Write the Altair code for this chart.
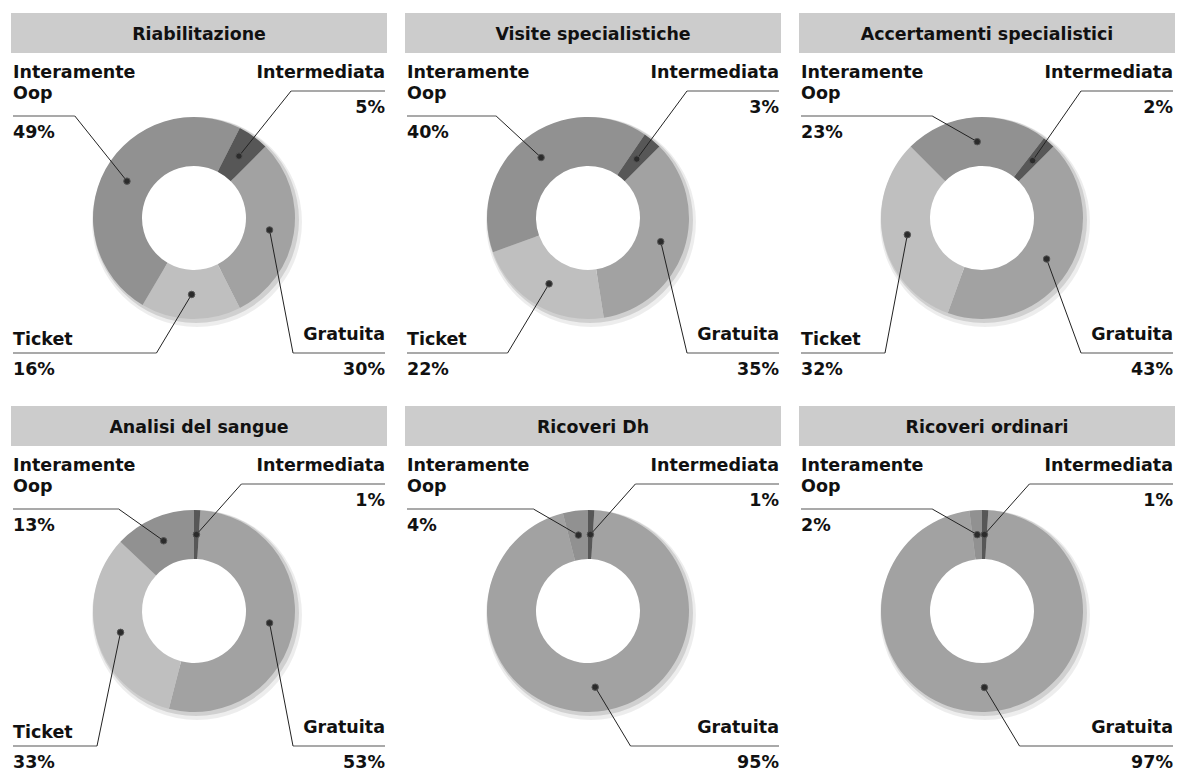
import math

import altair as alt
import pandas as pd

# ---- data -----------------------------------------------------------------
titles = [
    "Riabilitazione",
    "Visite specialistiche",
    "Accertamenti specialistici",
    "Analisi del sangue",
    "Ricoveri Dh",
    "Ricoveri ordinari",
]
categories = ["Gratuita", "Ticket", "Interamente Oop", "Intermediata"]
gratuita = [30, 35, 43, 53, 95, 97]
ticket = [16, 22, 32, 33, 0, 0]
interamente_oop = [49, 40, 23, 13, 4, 2]
intermediata = [5, 3, 2, 1, 1, 1]

# ---- style / layout -------------------------------------------------------
colors = ["#a2a2a2", "#bfbfbf", "#919191", "#575757"]
FONT = "DejaVu Sans"
TITLE_SIZE = 17.4
LABEL_SIZE = 17.5
W, H = 376, 365            # panel size
CX, CY = 183, 205          # ring centre inside a panel
R_OUT, R_IN = 101, 52
R_MID = (R_OUT + R_IN) / 2
ROW_ROTATION = [45.0, 3.6]  # start angle of the first slice, degrees, per row
LEFT, RIGHT = 2, 374

# label blocks: name lines + baselines, rule y, percentage baseline, side
label_layout = {
    "Interamente Oop": dict(lines=["Interamente", "Oop"], ys=[65, 86], rule=103, pct=125, side="left"),
    "Intermediata": dict(lines=["Intermediata"], ys=[65], rule=78, pct=100, side="right"),
    "Ticket": dict(lines=["Ticket"], ys=[332], rule=340, pct=362, side="left"),
    "Gratuita": dict(lines=["Gratuita"], ys=[327], rule=340, pct=362, side="right"),
}


def panel(i):
    row = i // 3
    rot = math.radians(ROW_ROTATION[row])
    values = [gratuita[i], ticket[i], interamente_oop[i], intermediata[i]]
    total = sum(values)
    slices = pd.DataFrame({"categoria": categories, "valore": values, "ordine": range(4)})

    # centroid of each slice on the middle of the ring, and its label pieces
    texts, rules, leaders = [], [], []
    cum = 0.0
    for cat, v in zip(categories, values):
        mid = rot + 2 * math.pi * (cum + v / 2) / total
        cum += v
        if v == 0:
            continue
        dx = CX + R_MID * math.sin(mid)
        dy = CY - R_MID * math.cos(mid)
        lay = label_layout[cat]
        side = lay["side"]
        drop = abs(dy - lay["rule"])
        top = lay["rule"] < CY
        reach = max(0.8 * drop, 45) if top else 0.6 * drop
        if side == "left":
            corner = max(dx - reach, 50 if top else 86)
            rules.append({"x": LEFT, "x2": corner, "y": lay["rule"]})
        else:
            corner = min(dx + reach, 282)
            rules.append({"x": corner, "x2": RIGHT, "y": lay["rule"]})
        leaders.append({"x": corner, "y": lay["rule"], "x2": dx, "y2": dy})
        for line, yb in zip(lay["lines"], lay["ys"]):
            texts.append({"t": line, "x": LEFT if side == "left" else RIGHT, "y": yb, "side": side})
        texts.append({"t": f"{v}%", "x": LEFT if side == "left" else RIGHT, "y": lay["pct"], "side": side})

    xs = alt.Scale(domain=[0, W], nice=False, zero=False)
    ys = alt.Scale(domain=[0, H], nice=False, zero=False, reverse=True)

    bar = alt.Chart(pd.DataFrame({"titolo": [titles[i]]})).mark_rect(color="#cccccc").encode(
        x=alt.value(0), x2=alt.value(W), y=alt.value(0), y2=alt.value(40)
    )
    title = alt.Chart(pd.DataFrame({"titolo": [titles[i]]})).mark_text(
        font=FONT, fontWeight="bold", fontSize=TITLE_SIZE, color="#111111",
        align="center", baseline="alphabetic",
    ).encode(text="titolo:N", x=alt.value(W / 2), y=alt.value(27))

    shadow_a = alt.Chart(pd.DataFrame({"k": [0]})).mark_arc(
        innerRadius=R_IN + 6, outerRadius=R_OUT + 4, theta=0, theta2=2 * math.pi,
        color="#000000", opacity=0.07, xOffset=3, yOffset=4,
    ).encode(x=alt.value(CX), y=alt.value(CY))
    shadow_b = alt.Chart(pd.DataFrame({"k": [0]})).mark_arc(
        innerRadius=R_IN + 4, outerRadius=R_OUT + 2, theta=0, theta2=2 * math.pi,
        color="#000000", opacity=0.12, xOffset=2, yOffset=2,
    ).encode(x=alt.value(CX), y=alt.value(CY))

    ring = alt.Chart(slices).mark_arc(innerRadius=R_IN, outerRadius=R_OUT).encode(
        theta=alt.Theta("valore:Q", stack=True,
                        scale=alt.Scale(range=[rot, rot + 2 * math.pi])),
        color=alt.Color("categoria:N", scale=alt.Scale(domain=categories, range=colors), legend=None),
        order=alt.Order("ordine:Q"),
        x=alt.value(CX), y=alt.value(CY),
    )

    rule_layer = alt.Chart(pd.DataFrame(rules)).mark_rule(color="#8c8c8c", strokeWidth=1.6).encode(
        x=alt.X("x:Q", scale=xs, axis=None), x2="x2:Q",
        y=alt.Y("y:Q", scale=ys, axis=None),
    )
    leader_layer = alt.Chart(pd.DataFrame(leaders)).mark_rule(color="#222222", strokeWidth=1).encode(
        x=alt.X("x:Q", scale=xs, axis=None), x2="x2:Q",
        y=alt.Y("y:Q", scale=ys, axis=None), y2="y2:Q",
    )
    dots = alt.Chart(pd.DataFrame(leaders)).mark_circle(
        size=42, color="#2b2b2b", opacity=1, stroke="#555555", strokeWidth=1
    ).encode(
        x=alt.X("x2:Q", scale=xs, axis=None),
        y=alt.Y("y2:Q", scale=ys, axis=None),
    )

    tdf = pd.DataFrame(texts)
    text_layers = []
    for side, align in (("left", "left"), ("right", "right")):
        text_layers.append(
            alt.Chart(tdf[tdf["side"] == side]).mark_text(
                font=FONT, fontWeight="bold", fontSize=LABEL_SIZE, color="#111111",
                align=align, baseline="alphabetic",
            ).encode(
                x=alt.X("x:Q", scale=xs, axis=None),
                y=alt.Y("y:Q", scale=ys, axis=None),
                text="t:N",
            )
        )

    return alt.layer(
        bar, title, shadow_a, shadow_b, ring, rule_layer, leader_layer, dots, *text_layers
    ).properties(width=W, height=H)


panels = [panel(i) for i in range(6)]
chart = alt.vconcat(
    alt.hconcat(*panels[:3], spacing=18),
    alt.hconcat(*panels[3:], spacing=18),
    spacing=27,
).properties(
    padding={"left": 11, "top": 13, "right": 0, "bottom": 0},
    background="white",
).configure_view(stroke=None)

chart.save("out.html", embed_options={"renderer": "svg", "actions": False})
